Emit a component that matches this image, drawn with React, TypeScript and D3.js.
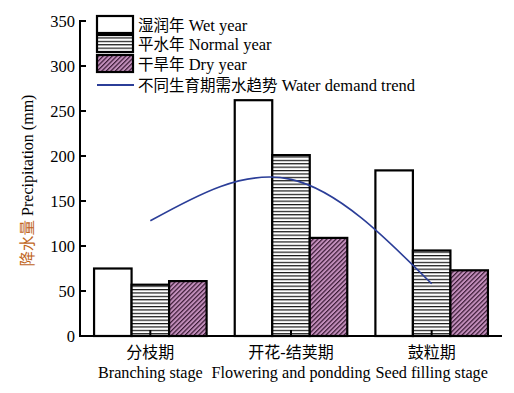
import React from "react";
import * as d3 from "d3";

const stagesCn = ["分枝期", "开花-结荚期", "鼓粒期"];
const stagesEn = ["Branching stage", "Flowering and pondding", "Seed filling stage"];
const seriesCn = ["湿润年", "平水年", "干旱年"];
const seriesEn = ["Wet year", "Normal year", "Dry year"];
const wetValues = [75, 262, 184];
const normalValues = [57, 201, 95];
const dryValues = [61, 109, 73];
const trendValues = [128, 174, 58];
const trendCn = "不同生育期需水趋势";
const trendEn = "Water demand trend";
const yTicks = [0, 50, 100, 150, 200, 250, 300, 350];

const W = 514, H = 393;
const left = 80, right = 502, top = 21, bottom = 336;
const serif = "'Liberation Serif', 'Times New Roman', 'Noto Sans CJK SC', serif";

export default function App() {
  const y = d3.scaleLinear().domain([0, 350]).range([bottom, top]);
  const x0 = d3.scaleBand<string>().domain(stagesCn).range([left, right]).paddingInner(0.2).paddingOuter(0.1);
  const x1 = d3.scaleBand<string>().domain(["wet", "normal", "dry"]).range([0, x0.bandwidth()]);
  const series = [
    { key: "wet", vals: wetValues, fill: "#ffffff" },
    { key: "normal", vals: normalValues, fill: "url(#hstripe)" },
    { key: "dry", vals: dryValues, fill: "url(#dhatch)" },
  ];
  const centers = stagesCn.map((s) => (x0(s) as number) + x0.bandwidth() / 2);
  const line = d3
    .line<number>()
    .x((_, i) => centers[i])
    .y((d) => y(d))
    .curve(d3.curveNatural);

  const legendFills = ["#ffffff", "url(#hstripe)", "url(#dhatch)"];
  const legendTop = [16, 35, 55];

  return (
    <svg width={W} height={H} style={{ position: "absolute", left: 0, top: 0 }}>
      <defs>
        <pattern id="hstripe" patternUnits="userSpaceOnUse" width={6} height={3.4}>
          <rect width={6} height={3.4} fill="#fff" />
          <line x1={0} x2={6} y1={0.6} y2={0.6} stroke="#000" strokeWidth={1.1} />
        </pattern>
        <pattern id="dhatch" patternUnits="userSpaceOnUse" width={3.2} height={3.2} patternTransform="rotate(45)">
          <rect width={3.2} height={3.2} fill="#c38fbc" />
          <line x1={0.6} x2={0.6} y1={0} y2={3.2} stroke="#3a1a35" strokeWidth={1.2} />
        </pattern>
      </defs>
      <rect width={W} height={H} fill="#fff" />

      {stagesCn.map((s, i) => (
        <g key={s} transform={`translate(${x0(s)},0)`}>
          {series.map((se) => (
            <rect
              key={se.key}
              x={x1(se.key)}
              y={y(se.vals[i])}
              width={x1.bandwidth()}
              height={bottom - y(se.vals[i])}
              fill={se.fill}
              stroke="#000"
              strokeWidth={2.2}
            />
          ))}
        </g>
      ))}

      <path d={line(trendValues) || ""} fill="none" stroke="#2b3e98" strokeWidth={1.6} />

      <line x1={left} x2={left} y1={top - 1} y2={bottom + 1} stroke="#000" strokeWidth={2} />
      <line x1={left - 1} x2={right} y1={bottom} y2={bottom} stroke="#000" strokeWidth={2} />
      {yTicks.map((t) => (
        <g key={t}>
          <line x1={left} x2={left + 6} y1={y(t)} y2={y(t)} stroke="#000" strokeWidth={2} />
          <text x={left - 5} y={y(t)} dy="0.35em" textAnchor="end" fontFamily={serif} fontSize={16.5} fill="#000">
            {t}
          </text>
        </g>
      ))}
      {centers.map((c, i) => (
        <g key={i}>
          <line x1={c} x2={c} y1={bottom} y2={bottom - 6} stroke="#000" strokeWidth={2} />
          <text x={c} y={358} textAnchor="middle" fontFamily={serif} fontSize={16} fill="#000">
            {stagesCn[i]}
          </text>
          <text x={c} y={378} textAnchor="middle" fontFamily={serif} fontSize={16.2} fill="#000">
            {stagesEn[i]}
          </text>
        </g>
      ))}

      <text transform={`translate(33,${(top + bottom) / 2 + 2}) rotate(-90)`} textAnchor="middle" fontFamily={serif} fontSize={16}>
        <tspan fill="#c0651c" fontSize={15.5}>降水量</tspan>
        <tspan fill="#000"> Precipitation (mm)</tspan>
      </text>

      {seriesCn.map((n, i) => (
        <g key={n}>
          <rect x={97} y={legendTop[i]} width={36} height={17} fill={legendFills[i]} stroke="#000" strokeWidth={2.2} />
          <text x={138} y={legendTop[i] + 9} dy="0.35em" fontFamily={serif} fontSize={16.5} fill="#000">
            <tspan fontSize={15.5}>{n}</tspan>
            <tspan> {seriesEn[i]}</tspan>
          </text>
        </g>
      ))}
      <line x1={97} x2={134} y1={85} y2={85} stroke="#2b3e98" strokeWidth={2} />
      <text x={138} y={85} dy="0.35em" fontFamily={serif} fontSize={16.5} fill="#000">
        <tspan fontSize={15.5}>{trendCn}</tspan>
        <tspan> {trendEn}</tspan>
      </text>
    </svg>
  );
}
